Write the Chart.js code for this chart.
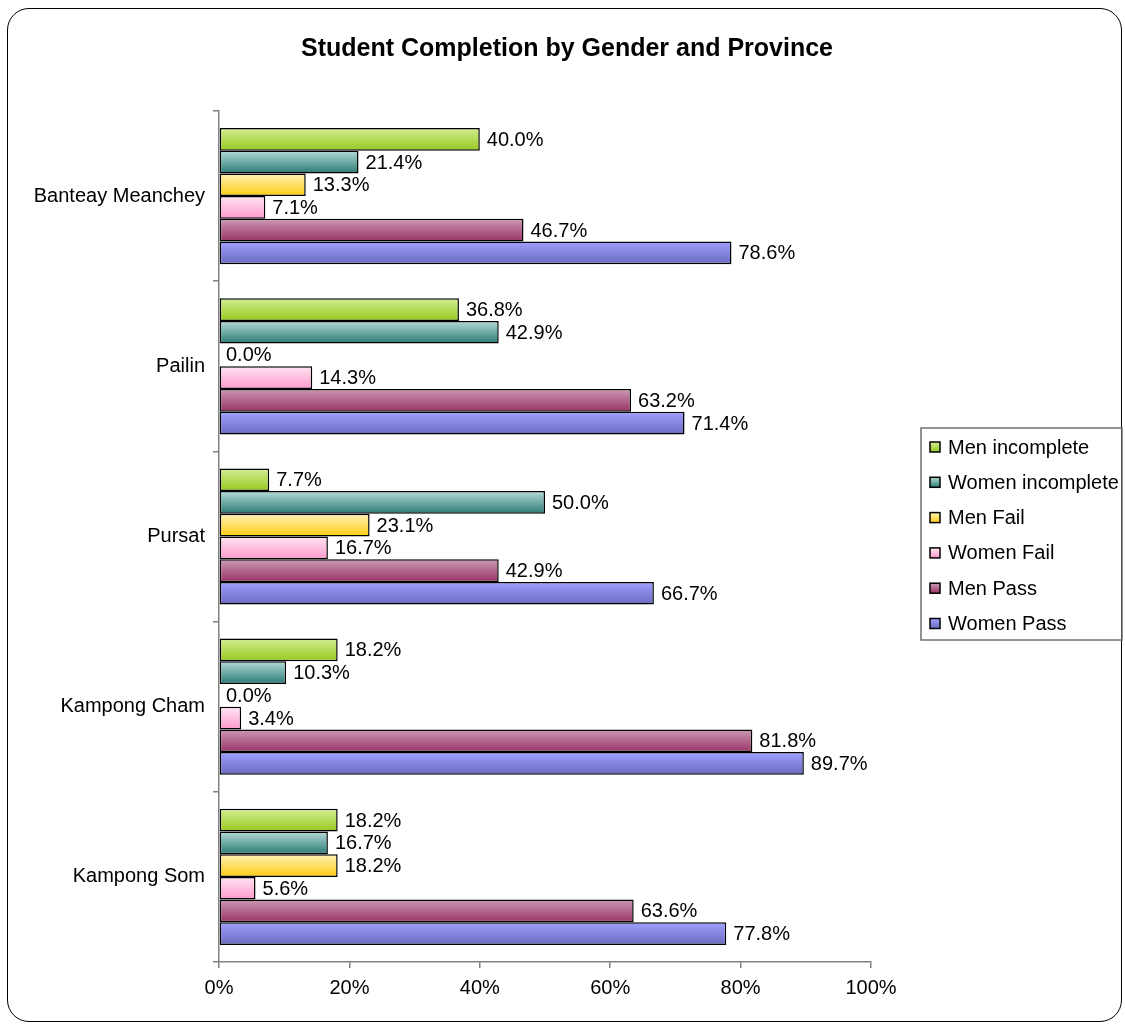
<!DOCTYPE html>
<html lang="en">
<head>
    <meta charset="UTF-8">
    <title>Student Completion by Gender and Province</title>
    <script src="https://cdn.jsdelivr.net/npm/chart.js"></script>
    <style>
        body { margin: 0; background: #fff; }
        #frame {
            position: absolute; left: 7px; top: 8px;
            width: 1113px; height: 1012px;
            border: 1.5px solid #000; border-radius: 22px;
        }
        #wrap { position: absolute; left: 0; top: 0; width: 1125px; height: 1024px; }
    </style>
</head>
<body>
    <div id="frame"></div>
    <div id="wrap"><canvas id="completionChart"></canvas></div>
    <script>
        const chartTitle = "Student Completion by Gender and Province";
        const provinces = ["Banteay Meanchey", "Pailin", "Pursat", "Kampong Cham", "Kampong Som"];
        const seriesNames = ["Men incomplete", "Women incomplete", "Men Fail", "Women Fail", "Men Pass", "Women Pass"];
        const menIncomplete   = [40.0, 36.8,  7.7, 18.2, 18.2];
        const womenIncomplete = [21.4, 42.9, 50.0, 10.3, 16.7];
        const menFail         = [13.3,  0.0, 23.1,  0.0, 18.2];
        const womenFail       = [ 7.1, 14.3, 16.7,  3.4,  5.6];
        const menPass         = [46.7, 63.2, 42.9, 81.8, 63.6];
        const womenPass       = [78.6, 71.4, 66.7, 89.7, 77.8];
        const xTicks = [0, 20, 40, 60, 80, 100];

        const colorTop    = ["#d4ee94", "#b4dcd8", "#fff2b8", "#ffe6f2", "#cc9ab4", "#a0a0ff"];
        const colorBottom = ["#96c81e", "#2a7a74", "#ffcc11", "#ff99cc", "#993366", "#6a6ac0"];
        const FONT = "'Liberation Sans', Arial, sans-serif";

        function barFill(i) {
            return function(c) {
                const el = c.chart.getDatasetMeta(c.datasetIndex).data[c.dataIndex];
                if (!el || el.y == null || isNaN(el.y) || !el.height) return colorBottom[i];
                const top = el.y - el.height / 2;
                const g = c.chart.ctx.createLinearGradient(0, top, 0, top + el.height);
                g.addColorStop(0, colorTop[i]);
                g.addColorStop(1, colorBottom[i]);
                return g;
            };
        }

        const allSeries = [menIncomplete, womenIncomplete, menFail, womenFail, menPass, womenPass];

        // title centred on the whole picture, not only the plot
        const pageTitle = {
            id: "pageTitle",
            afterDraw(chart) {
                const ctx = chart.ctx;
                ctx.save();
                ctx.font = "bold 25px " + FONT;
                ctx.fillStyle = "#000";
                ctx.textAlign = "center";
                ctx.textBaseline = "middle";
                ctx.fillText(chartTitle, 567, 49);
                ctx.restore();
            }
        };

        // value labels at the end of each bar
        const valueLabels = {
            id: "valueLabels",
            afterDatasetsDraw(chart) {
                const ctx = chart.ctx;
                ctx.save();
                ctx.font = "20px " + FONT;
                ctx.fillStyle = "#000";
                ctx.textBaseline = "middle";
                ctx.textAlign = "left";
                chart.data.datasets.forEach((ds, di) => {
                    chart.getDatasetMeta(di).data.forEach((el, i) => {
                        ctx.fillText(ds.data[i].toFixed(1) + "%", el.x + 7, el.y + 1);
                    });
                });
                ctx.restore();
            }
        };

        // boxed legend on the right
        const boxLegend = {
            id: "boxLegend",
            afterDraw(chart) {
                const ctx = chart.ctx;
                const left = 921, top = 428, w = 201, h = 212, rowH = 35.3;
                ctx.save();
                ctx.strokeStyle = "#707070";
                ctx.lineWidth = 1.5;
                ctx.strokeRect(left, top, w, h);
                ctx.font = "20px " + FONT;
                ctx.textBaseline = "middle";
                chart.data.datasets.forEach((ds, i) => {
                    const y = top + 19 + i * rowH;
                    const g = ctx.createLinearGradient(0, y - 5, 0, y + 5);
                    g.addColorStop(0, colorTop[i]);
                    g.addColorStop(1, colorBottom[i]);
                    ctx.fillStyle = g;
                    ctx.fillRect(930, y - 5, 10, 10);
                    ctx.strokeStyle = "#000";
                    ctx.lineWidth = 1.5;
                    ctx.strokeRect(930, y - 5, 10, 10);
                    ctx.fillStyle = "#000";
                    ctx.fillText(ds.label, 948, y + 1);
                });
                ctx.restore();
            }
        };

        const ctx = document.getElementById("completionChart").getContext("2d");
        const chart = new Chart(ctx, {
            type: "bar",
            data: {
                labels: provinces,
                datasets: seriesNames.map((name, i) => ({
                    label: name,
                    data: allSeries[i],
                    backgroundColor: barFill(i),
                    borderColor: "#000",
                    borderWidth: 1.5,
                    borderSkipped: false,
                    categoryPercentage: 0.8,
                    barPercentage: 1.0
                }))
            },
            options: {
                indexAxis: "y",
                responsive: true,
                maintainAspectRatio: false,
                animation: false,
                layout: { padding: { left: 0, right: 254, top: 111, bottom: 0 } },
                plugins: {
                    legend: { display: false },
                    tooltip: { enabled: false },
                    title: { display: false }
                },
                scales: {
                    x: {
                        min: 0,
                        max: 100,
                        afterBuildTicks: s => { s.ticks = xTicks.map(v => ({ value: v })); },
                        afterFit: s => { s.height = 62; },
                        grid: { drawOnChartArea: false, tickLength: 6, color: "#808080", lineWidth: 1.5 },
                        border: { color: "#808080", width: 1.5 },
                        ticks: {
                            color: "#000",
                            padding: 8,
                            maxRotation: 0,
                            font: { family: FONT, size: 20 },
                            callback: v => v + "%"
                        }
                    },
                    y: {
                        afterFit: s => { s.width = 219; },
                        grid: { drawOnChartArea: false, offset: true, tickLength: 6, color: "#808080", lineWidth: 1.5 },
                        border: { color: "#808080", width: 1.5 },
                        ticks: {
                            color: "#000",
                            padding: 8,
                            font: { family: FONT, size: 20 }
                        }
                    }
                }
            },
            plugins: [valueLabels, boxLegend, pageTitle]
        });
        // second pass so the bar gradients see the laid-out bar positions
        chart.update("none");
    </script>
</body>
</html>
